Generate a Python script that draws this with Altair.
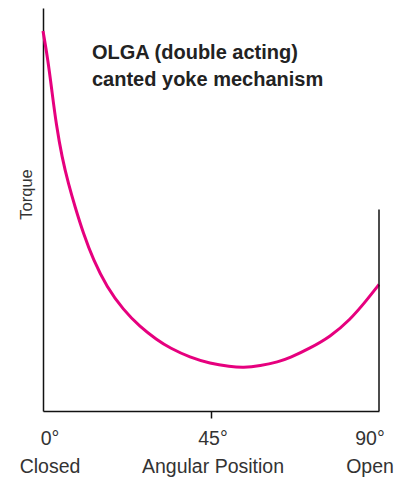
import altair as alt
import pandas as pd

# Curve values (angle in degrees, torque in relative units 0-100)
angle_deg = [0, 1.34, 2.41, 3.56, 5.09, 6.88, 8.57, 10.79, 13.47, 17.06, 21.51, 25.98,
             30.46, 34.02, 39.38, 44.73, 50.09, 53.65, 58.13, 63.03, 66.16, 71.52,
             76.88, 82.23, 86.70, 90]
torque = [94.3, 87.0, 79.2, 71.0, 62.9, 56.1, 50.7, 44.1, 37.5, 30.8, 25.1, 20.9,
          17.7, 15.6, 13.3, 11.8, 11.0, 10.7, 11.2, 12.2, 13.2, 15.6,
          18.4, 22.6, 27.5, 31.4]

tick_values = [0, 45, 90]
tick_labels = ["0°", "45°", "90°"]
sub_labels = ["Closed", "Angular Position", "Open"]
title_lines = ["OLGA (double acting)", "canted yoke mechanism"]
y_title = "Torque"
right_frame_top = 50

MAGENTA = "#e6007e"
INK = "#111111"
TEXT = "#333333"
FONT = "Liberation Sans"

curve_df = pd.DataFrame({"angle": angle_deg, "torque": torque})
x_scale = alt.Scale(domain=[0, 90], nice=False, zero=False)
y_scale = alt.Scale(domain=[0, 100], nice=False)

curve = alt.Chart(curve_df).mark_line(
    color=MAGENTA, strokeWidth=3, interpolate="basis"
).encode(
    x=alt.X("angle:Q", scale=x_scale,
            axis=alt.Axis(values=[45], labels=False, title=None, grid=False,
                          tickSize=7, tickColor=INK, tickWidth=1.5,
                          domainColor=INK, domainWidth=1.5)),
    y=alt.Y("torque:Q", scale=y_scale,
            axis=alt.Axis(title=y_title, labels=False, ticks=False, grid=False,
                          domainColor=INK, domainWidth=1.5,
                          titleFont=FONT, titleFontSize=16.5, titleFontWeight="normal",
                          titleColor=TEXT, titleAngle=270, titleAlign="center",
                          titleBaseline="middle", titleX=-17, titleY=186)),
)

frame_df = pd.DataFrame({"x": [90], "y0": [0], "y1": [right_frame_top]})
right_frame = alt.Chart(frame_df).mark_rule(color=INK, strokeWidth=1.5).encode(
    x=alt.X("x:Q", scale=x_scale), y=alt.Y("y0:Q", scale=y_scale), y2="y1:Q"
)

label_df = pd.DataFrame({
    "deg": tick_values,
    "label": [t + "\n" + s for t, s in zip(tick_labels, sub_labels)],
})
label_dx = [7, 2, -9]
label_layers = []
for i, dx in enumerate(label_dx):
    label_layers.append(
        alt.Chart(label_df.iloc[i:i + 1]).mark_text(
            dx=dx, align="center", baseline="alphabetic", fontSize=19.5,
            font=FONT, lineBreak="\n", lineHeight=28, color=TEXT
        ).encode(x=alt.X("deg:Q", scale=x_scale), y=alt.value(437), text="label:N")
    )

title_df = pd.DataFrame({"t": ["\n".join(title_lines)]})
title = alt.Chart(title_df).mark_text(
    align="left", baseline="alphabetic", fontSize=20, fontWeight="bold",
    font=FONT, lineBreak="\n", lineHeight=27, color="#222222"
).encode(x=alt.value(49), y=alt.value(51), text="t:N")

chart = alt.layer(curve, right_frame, title, *label_layers).properties(
    width=336, height=403,
    autosize=alt.AutoSizeParams(type="none"),
    padding={"left": 35, "top": 0, "right": 16, "bottom": 70},
).configure_view(stroke=None)

chart.save("out.html", embed_options={"renderer": "svg", "actions": False})
